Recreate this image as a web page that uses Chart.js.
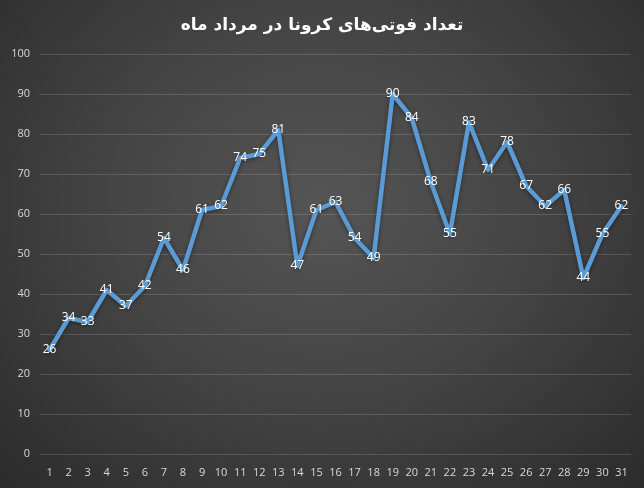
<!DOCTYPE html>
<html><head><meta charset="utf-8">
<script src="https://cdn.jsdelivr.net/npm/chart.js@4"></script>
<style>
html,body{margin:0;padding:0;background:#333;}
#wrap{width:644px;height:488px;background:radial-gradient(ellipse at 50% 42%, #555555 0%, #454545 45%, #2b2b2b 100%);}
</style></head>
<body><div id="wrap"><canvas id="c" width="644" height="488"></canvas></div>
<script>
const titleText = 'تعداد فوتی‌های کرونا در مرداد ماه';
const days = ['1','2','3','4','5','6','7','8','9','10','11','12','13','14','15','16','17','18','19','20','21','22','23','24','25','26','27','28','29','30','31'];
const deaths = [26,34,33,41,37,42,54,46,61,62,74,75,81,47,61,63,54,49,90,84,68,55,83,71,78,67,62,66,44,55,62];
const yTicks = [0,10,20,30,40,50,60,70,80,90,100];

const extras = {
  id:'extras',
  beforeDatasetDraw(chart){
    const ctx=chart.ctx; ctx.save();
    ctx.shadowColor='rgba(0,0,0,0.45)'; ctx.shadowBlur=4; ctx.shadowOffsetY=1;
  },
  afterDatasetDraw(chart){ chart.ctx.restore(); },
  afterDraw(chart){
    const ctx=chart.ctx;
    ctx.save();
    ctx.fillStyle='#ffffff';
    ctx.font='bold 17px "DejaVu Sans"';
    ctx.textAlign='center'; ctx.textBaseline='middle';
    ctx.direction='rtl';
    ctx.fillText(titleText, 322, 26);
    ctx.restore();
    const meta=chart.getDatasetMeta(0);
    ctx.save();
    ctx.fillStyle='#ffffff';
    ctx.font='12px "Open Sans"';
    ctx.textAlign='center'; ctx.textBaseline='middle';
    meta.data.forEach((p,i)=>{ ctx.fillText(String(deaths[i]), p.x, p.y); });
    ctx.restore();
  }
};

new Chart(document.getElementById('c'),{
  type:'line',
  data:{labels:days,datasets:[{data:deaths,borderColor:'#5b9bd5',borderWidth:4.5,pointRadius:0,tension:0,fill:false,borderJoinStyle:'round',borderCapStyle:'round'}]},
  options:{
    responsive:false,animation:false,
    layout:{padding:{top:54,right:13,left:0,bottom:0}},
    plugins:{legend:{display:false},title:{display:false},tooltip:{enabled:false}},
    scales:{
      x:{offset:true,grid:{display:false},border:{display:false},
        ticks:{color:'#d9d9d9',font:{size:11,family:'Open Sans'},maxRotation:0,autoSkip:false,padding:4},
        afterFit(s){s.height=34;}},
      y:{min:0,max:100,afterBuildTicks(s){s.ticks=yTicks.map(v=>({value:v}));},
        grid:{color:'rgba(255,255,255,0.14)',lineWidth:1,drawTicks:false},border:{display:false},
        ticks:{color:'#d9d9d9',font:{size:11,family:'Open Sans'},padding:10},
        afterFit(s){s.width=40;}}
    }
  },
  plugins:[extras]
});
</script></body></html>
